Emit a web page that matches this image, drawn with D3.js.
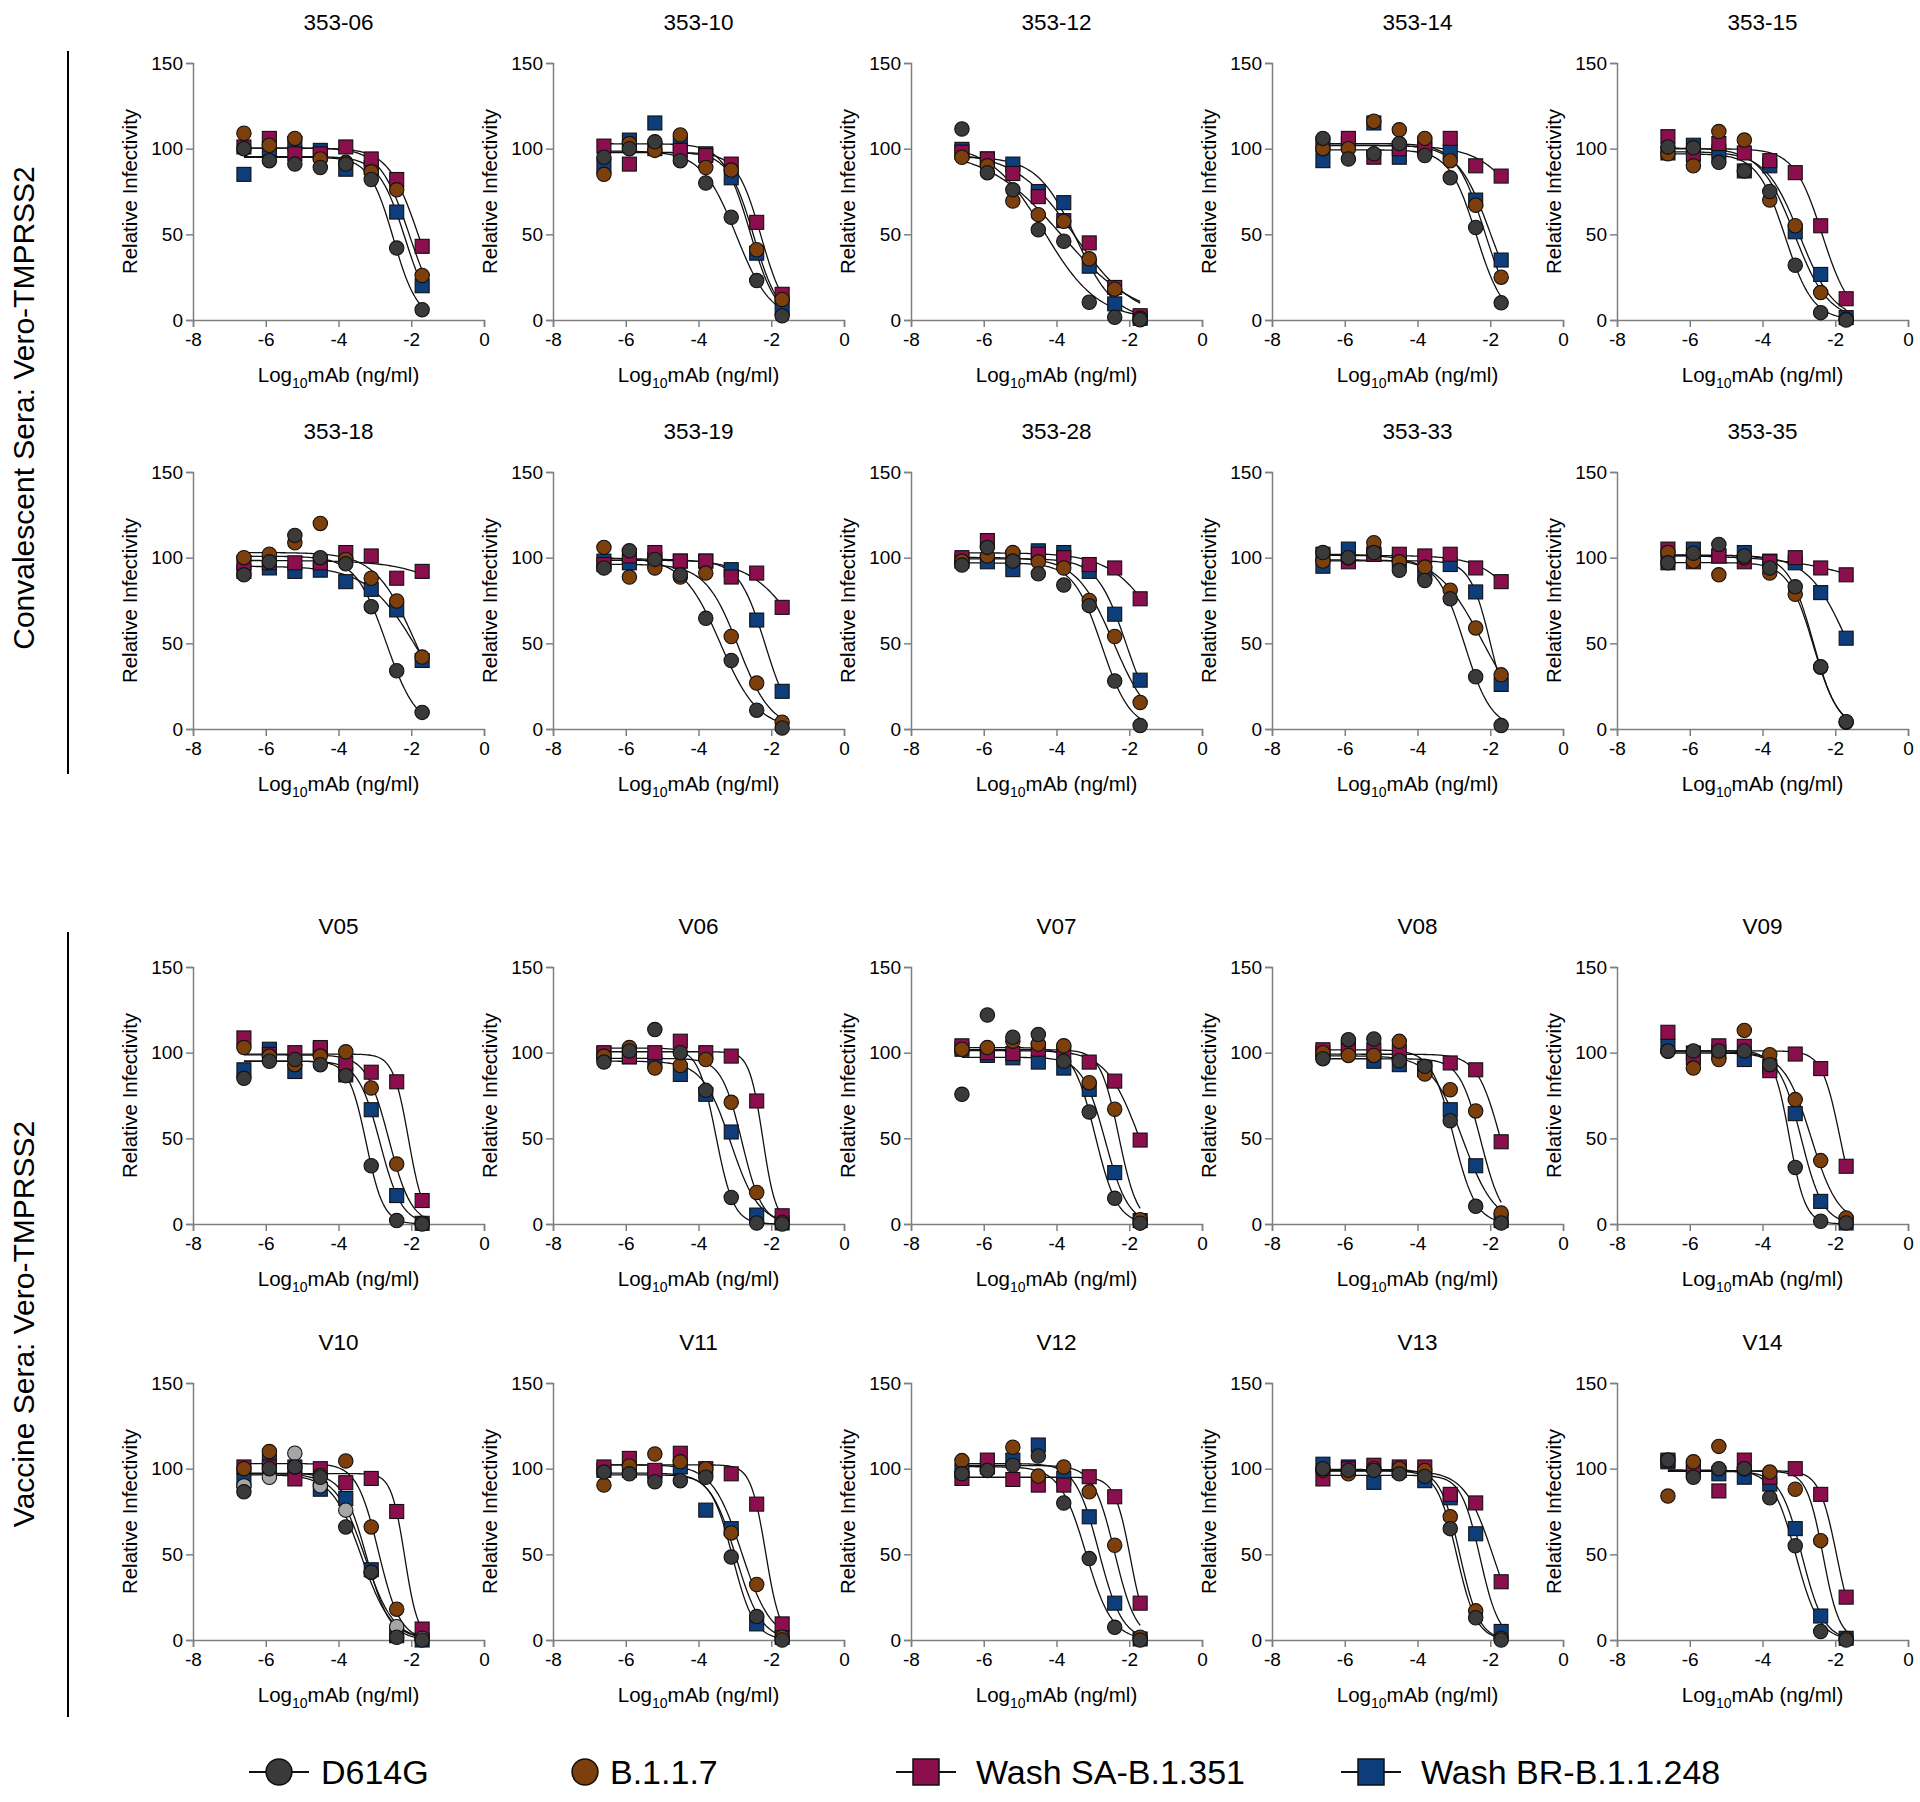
<!DOCTYPE html>
<html><head><meta charset="utf-8">
<script src="https://cdn.jsdelivr.net/npm/d3@7"></script>
<style>
body{margin:0;background:#fff;}
svg{display:block;font-family:"Liberation Sans",Arial,Helvetica,sans-serif;}
</style></head>
<body>
<svg id="chart" width="1920" height="1802"></svg>
<script>
// ---------------- DATA ----------------
const panelNames = ["353-06","353-10","353-12","353-14","353-15",
                    "353-18","353-19","353-28","353-33","353-35",
                    "V05","V06","V07","V08","V09",
                    "V10","V11","V12","V13","V14"];
const doses = [-6.6,-5.9,-5.2,-4.5,-3.8,-3.1,-2.4,-1.7];
const seriesNames = ["D614G","B.1.1.7","Wash SA-B.1.351","Wash BR-B.1.1.248"];
const xTicks = [-8,-6,-4,-2,0];
const yTicks = [0,50,100,150];
const groupLabels = ["Convalescent Sera: Vero-TMPRSS2","Vaccine Sera: Vero-TMPRSS2"];

const d614g = [
 [100,93,91,89,91,82,42,6],
 [95,100,104,93,80,60,23,2.5],
 [111.5,86,76,52.7,46,10.4,1.6,0.2],
 [106,94,97,103,96,83,54,10],
 [101,100.5,92,87,75,32,4.3,0],
 [90,97.6,113,100,96.4,71.4,34,9.7],
 [94,104,99,90,64.6,40,11,0.6],
 [95.7,106,98,90.6,84,72,28,2],
 [103,100,103,92.6,86.7,76,30.5,2],
 [97,102.6,107.7,101,94,83,36.3,4.3],
 [85,95,96,93,86.6,34,2,0],
 [94.5,101,113.5,100,78,15.5,0.6,0],
 [75.7,122,109,110.6,95,65.4,15,0.5],
 [96.5,107.6,108,95.3,92,60.3,10.3,0.6],
 [101,101,101,101,93,33,1.6,0.6],
 [86.5,100,101,95,66,39.6,1.6,0],
 [98,97,92.4,93,95,48.4,13.7,0],
 [97,99,102,107.4,80,47.5,7.4,0],
 [100,99,99,97,95.5,65,13,0],
 [105,95,100,100,83,55,5,0]
];
const b117 = [
 [109,102,106,94,92,86.5,76,26],
 [85,103,99,108,89,87.5,41,12],
 [95,90,69.5,61.5,57.6,35.7,18,1],
 [100,100,116,111,106,93,67,25],
 [97,90,110,105,70,55,16,0.5],
 [100,102,108.7,120,99,88,74.7,42],
 [106,88.7,94,88.7,91,54,26.8,4],
 [98,101,103,97.6,94,75,54,15.5],
 [98,100,108.7,97.6,94.5,81,59,31.6],
 [103,98,90,100,91,78.6,36,4],
 [103,98,93,98,100.5,79.4,35,0.5],
 [98,103,91,92.5,96,71,18.4,1],
 [102,103,106.7,105,104,82.5,67,2.5],
 [100,98.4,98.4,106.6,87.5,78.4,66,6.4],
 [100.8,91,96,113,98.8,72.6,37,3.5],
 [100,110,101,96,104.5,66,18,0.6],
 [90.4,101.6,108.6,104,100,62.5,32.4,1.6],
 [104.7,99,112.5,95.7,101,86.5,55.3,1.6],
 [99,97,100,100,99,72,17,1],
 [84,104,113,100,98,88,58,1]
];
const washSA = [
 [101,106,97,97,101,94,82,43],
 [101.5,91,100,99,96,91,57,15],
 [98,94,85.5,72,58,45,19,2.5],
 [102,106,95,100,102,106,90,84],
 [107,96.5,103,97.5,93,86,55,12.4],
 [97,97,97,97,103,101,88,92],
 [96,101,103,98,98,88.7,91,71],
 [100,110,100,102,100,96,94,76],
 [102,97.6,102,102,101,102,94,86],
 [105,97.6,101,97.6,97.6,100,94,90],
 [108.6,99,100,103,94,88.6,83,13.7],
 [100,97.6,100,106.7,100,98,71.8,4.8],
 [104,100,99.5,102,100,94.5,83.4,49],
 [101.7,102.7,101.7,100.8,91,94,90,48],
 [111.9,96.9,104,103.7,89.5,99.2,90.7,33.7],
 [101,101,94,100,91.8,94.3,75,6.4],
 [101,106,99,109,100,97,79.3,9.4],
 [94.3,105,93.7,90.4,90.4,95.3,83.6,21.5],
 [94,100,102,101,101,85,80,34],
 [105,100,87,105,95,100,85,25]
];
const washBR = [
 [85,100,103,99,88,89,63,20],
 [90,105,115,103,97,83,39,7],
 [99.6,94,91,75,68.5,31.4,9.4,1],
 [93,103,115,95,100,98,70,35],
 [97.5,102,98,87,90,51.5,26.6,1.4],
 [92,94,92,92.7,86,81.5,69.5,40],
 [98,97,99,98,98,93,63.6,22],
 [98,97.6,93,104,103,92,67,28.5],
 [95,105,102,98,91,96,80,26],
 [97,105,101,103,98,97,79.6,53],
 [90,102,89,102,87,66.7,16.6,0.4],
 [99.5,97.6,95,87.3,75.7,53.7,5.2,0.6],
 [102,98.4,97,94.5,91,78.6,30,2],
 [100,102.7,95,93,90,66.7,34,2],
 [103.7,99.8,100.8,96,92,64.4,13.2,0.6],
 [93,105,101,88,82.6,41,2.5,0],
 [99,99,98,101,75.8,65,9.4,1.6],
 [99,101,105,113.8,94.3,71.9,21.5,0.6],
 [102.6,101,92,99,93,83,62,5],
 [104,99,97,95,91,65,14,1]
];
// extra light-grey replicate shown only in panel V10
const v10Replicate = [90,95,109,90,75.8,39.6,7.8,1];

// ---------------- STYLE / LAYOUT ----------------
const colors = {D614G:"#3a3a3a", B117:"#7d3f0c", SA:"#8a0f4c", BR:"#0d3d7a", rep:"#a6a6a6"};
const colX = [193,553,911,1272,1617];
const rowY = [63,472,967,1383];
const plotW = 291, plotH = 257;

const svg = d3.select("#chart");
const x = d3.scaleLinear().domain([-8,0]).range([0,plotW]);
const y = d3.scaleLinear().domain([0,150]).range([plotH,0]);

function fit(ys){
  let best={err:Infinity,c:-3,h:1,top:100};
  const evalP=(c,h)=>{
    const f=doses.map(d=>1/(1+Math.pow(10,(d-c)*h)));
    let sfy=0,sff=0; ys.forEach((v,i)=>{sfy+=f[i]*v;sff+=f[i]*f[i];});
    let top=Math.max(95,Math.min(103,sfy/sff));
    let err=0; ys.forEach((v,i)=>{const r=v-top*f[i];err+=r*r;});
    if(err<best.err) best={err,c,h,top};
  };
  for(let c=-8;c<=1.5;c+=0.025) for(let h=0.3;h<=6;h+=0.1) evalP(c,h);
  const c0=best.c,h0=best.h;
  for(let c=c0-0.03;c<=c0+0.03;c+=0.005) for(let h=Math.max(0.2,h0-0.12);h<=h0+0.12;h+=0.01) evalP(c,h);
  return best;
}

function drawPanel(i){
  const col=i%5,row=Math.floor(i/5);
  const g=svg.append("g").attr("transform",`translate(${colX[col]},${rowY[row]})`);
  // title
  g.append("text").attr("x",plotW/2).attr("y",-41).attr("text-anchor","middle")
   .attr("dominant-baseline","central").attr("font-size",22.5).text(panelNames[i]);
  // axes
  const ax=g.append("g").call(d3.axisLeft(y).tickValues(yTicks).tickSize(7).tickPadding(3).tickFormat(d3.format("d")));
  const bx=g.append("g").attr("transform",`translate(0,${plotH})`)
    .call(d3.axisBottom(x).tickValues(xTicks).tickSize(7).tickPadding(6).tickFormat(d=>String(d)));
  [ax,bx].forEach(a=>{
    a.select(".domain").attr("stroke","#808080").attr("stroke-width",1.5);
    a.selectAll(".tick line").attr("stroke","#808080").attr("stroke-width",1.5);
    a.selectAll(".tick text").attr("font-size",19).attr("fill","#000").attr("font-family","'Liberation Sans',Arial,sans-serif");
  });
  // axis labels
  g.append("text").attr("transform",`translate(${-63},${plotH/2}) rotate(-90)`)
   .attr("text-anchor","middle").attr("dy","0.35em").attr("font-size",20.5).text("Relative Infectivity");
  const xl=g.append("text").attr("x",plotW/2).attr("y",plotH+62).attr("text-anchor","middle").attr("font-size",20.5);
  xl.append("tspan").text("Log");
  xl.append("tspan").attr("font-size",14).attr("dy",6).text("10");
  xl.append("tspan").attr("dy",-6).text("mAb (ng/ml)");

  const sets=[
    {vals:washBR[i],color:colors.BR,shape:"square"},
    {vals:washSA[i],color:colors.SA,shape:"square"},
    {vals:b117[i],color:colors.B117,shape:"circle"},
    {vals:d614g[i],color:colors.D614G,shape:"circle"}
  ];
  if(panelNames[i]==="V10") sets.splice(3,0,{vals:v10Replicate,color:colors.rep,shape:"circle"});
  // curves
  const line=d3.line().x(d=>x(d[0])).y(d=>y(d[1]));
  sets.forEach(s=>{
    const p=fit(s.vals);
    const pts=d3.range(0,101).map(k=>{const xv=-6.6+k*(4.9/100);return [xv,p.top/(1+Math.pow(10,(xv-p.c)*p.h))];});
    g.append("path").attr("d",line(pts)).attr("fill","none").attr("stroke","#111").attr("stroke-width",1.3);
  });
  // markers
  sets.forEach(s=>{
    s.vals.forEach((v,k)=>{
      const cx=x(doses[k]),cy=y(v);
      if(s.shape==="circle")
        g.append("circle").attr("cx",cx).attr("cy",cy).attr("r",7.2).attr("fill",s.color).attr("stroke","#111").attr("stroke-width",1.1);
      else
        g.append("rect").attr("x",cx-7).attr("y",cy-7).attr("width",14).attr("height",14).attr("fill",s.color).attr("stroke","#111").attr("stroke-width",1.1);
    });
  });
}
panelNames.forEach((_,i)=>drawPanel(i));

// group labels and brackets
const groups=[{label:groupLabels[0],y1:51,y2:774,cy:408},{label:groupLabels[1],y1:932,y2:1717,cy:1324}];
groups.forEach(gp=>{
  svg.append("line").attr("x1",68).attr("x2",68).attr("y1",gp.y1).attr("y2",gp.y2).attr("stroke","#000").attr("stroke-width",2);
  svg.append("text").attr("transform",`translate(34,${gp.cy}) rotate(-90)`).attr("text-anchor","middle")
     .attr("font-size",30).text(gp.label);
});

// legend
const legendItems=[
  {name:seriesNames[0],color:colors.D614G,shape:"circle",x:279,line:true,tx:42},
  {name:seriesNames[1],color:colors.B117,shape:"circle",x:585,line:false,tx:25},
  {name:seriesNames[2],color:colors.SA,shape:"square",x:926,line:true,tx:50},
  {name:seriesNames[3],color:colors.BR,shape:"square",x:1371,line:true,tx:50}
];
const ly=1772;
legendItems.forEach(it=>{
  const lg=svg.append("g").attr("transform",`translate(${it.x},${ly})`);
  if(it.line)
    lg.append("line").attr("x1",-30).attr("x2",30).attr("stroke","#111").attr("stroke-width",2);
  if(it.shape==="circle") lg.append("circle").attr("r",13).attr("fill",it.color).attr("stroke","#111").attr("stroke-width",1.5);
  else lg.append("rect").attr("x",-13).attr("y",-13).attr("width",26).attr("height",26).attr("fill",it.color).attr("stroke","#111").attr("stroke-width",1.5);
  lg.append("text").attr("x",it.tx).attr("dy","0.36em").attr("font-size",34).text(it.name);
});
</script>
</body></html>
